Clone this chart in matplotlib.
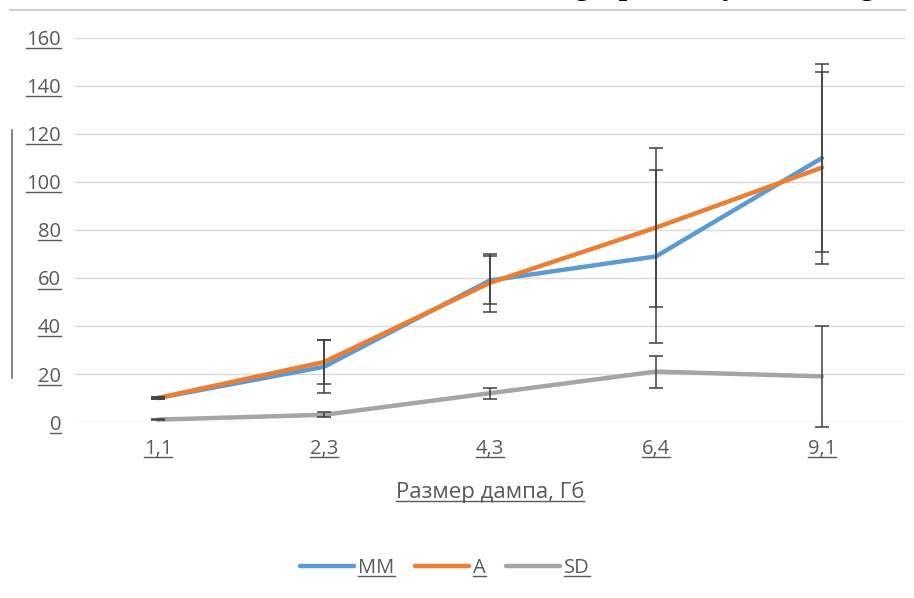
import matplotlib
matplotlib.use("Agg")
import matplotlib.pyplot as plt
from matplotlib.lines import Line2D

categories = ["1,1", "2,3", "4,3", "6,4", "9,1"]
mm = [10, 23, 59, 69, 110]
a = [10, 25, 58, 81, 106]
sd = [1, 3, 12, 21, 19]
mm_err = [0.5, 11, 10, 36, 39]
a_err = [0.5, 9, 12, 33, 40]
sd_err = [0.3, 1, 2.3, 6.7, 21]
yticks = [0, 20, 40, 60, 80, 100, 120, 140, 160]
xlabel = "Размер дампа, Гб"
page_text = "The graph, entry to loading"

plt.rcParams['font.family'] = ['Open Sans', 'DejaVu Sans']
W, H = 914, 598
fig = plt.figure(figsize=(W / 100, H / 100), dpi=100)
fig.patch.set_facecolor('white')

ax = fig.add_axes([75 / W, 1 - 422 / H, 830 / W, 384 / H])
x = list(range(len(categories)))

colors = {'MM': '#5B9BD5', 'A': '#ED7D31', 'SD': '#A5A5A5'}
for vals, err, name in [(mm, mm_err, 'MM'), (a, a_err, 'A'), (sd, sd_err, 'SD')]:
    ax.plot(x, vals, color=colors[name], lw=3.2, label=name, solid_capstyle='round', zorder=3)
    ax.errorbar(x, vals, yerr=err, fmt='none', ecolor='#404040', elinewidth=1.1,
                capsize=5, capthick=1.1, zorder=4, clip_on=False)

ax.set_xlim(-0.5, len(categories) - 0.5)
ax.set_ylim(0, 160)
ax.set_yticks(yticks)
ax.set_yticklabels([str(v) for v in yticks])
ax.set_xticks(x)
ax.set_xticklabels(categories)
ax.yaxis.grid(True, color='#D9D9D9', lw=1)
ax.set_axisbelow(True)
for s in ax.spines.values():
    s.set_visible(False)
ax.tick_params(length=0, labelsize=14.5, labelcolor='#595959')
ax.tick_params(axis='y', pad=10)
ax.tick_params(axis='x', pad=12)
ax.set_xlabel(xlabel, fontsize=16, color='#595959', labelpad=16)

leg = fig.legend(loc='center', bbox_to_anchor=(445 / W, 1 - 568 / H), ncol=3, frameon=False,
                 fontsize=14.5, handlelength=2.7, handletextpad=0.2, columnspacing=1.0,
                 labelcolor='#595959')

# page decorations
fig.add_artist(Line2D([10 / W, 905 / W], [1 - 10 / H, 1 - 10 / H], color='#D0D0D0', lw=1.5))
fig.add_artist(Line2D([12 / W, 12 / W], [1 - 130 / H, 1 - 378 / H], color='#707070', lw=1.2))
fig.text(516 / W, 1 + 6 / H, page_text, fontsize=22, fontweight='bold',
         family='Liberation Serif', va='baseline', ha='left')

# underline texts
fig.canvas.draw()
r = fig.canvas.get_renderer()
texts = list(ax.get_xticklabels()) + list(ax.get_yticklabels()) + [ax.xaxis.label] + list(leg.get_texts())
for t in texts:
    bb = t.get_window_extent(r)
    yb = bb.y0 + 2
    fig.add_artist(Line2D([bb.x0 / W, bb.x1 / W], [yb / H, yb / H], color='#595959', lw=1.0))

fig.savefig("out.png", dpi=100)
